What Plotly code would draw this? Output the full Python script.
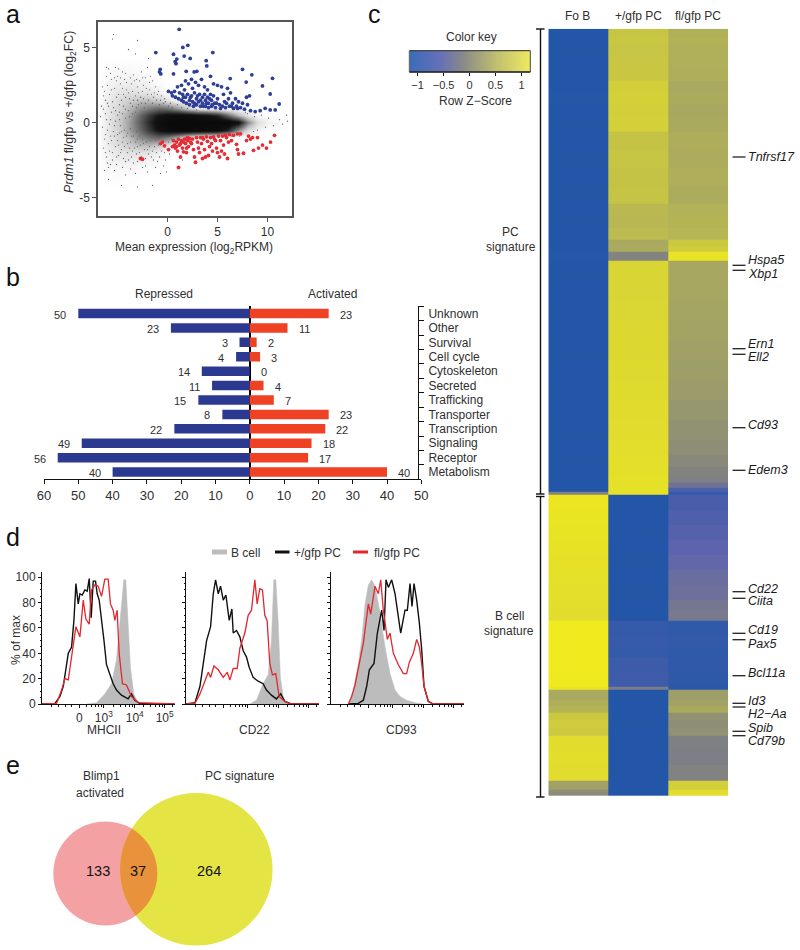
import numpy as np
import plotly.graph_objects as go

W, H = 800, 950
FONT = "Liberation Sans"
TXT = "#2f2f2f"

# ---------- panel a: MA plot ----------
cloud_x = [-7,-6,-5,-4,-3,-2,-1,0,1,2,3,4,5,6,7,8,9,10,11,12]
cloud_y = [4,3.5,3,2.5,2,1.5,1,0.5,0,-0.5,-1,-1.5,-2,-2.5,-3,-3.5,-4]
cloud_density = [
 [0,.01,.01,.01,.01,0,0,0,0,0,0,0,0,0,0,0,0,0,0,0],
 [0,.02,.03,.03,.02,.01,0,0,0,0,0,0,0,0,0,0,0,0,0,0],
 [0,.03,.05,.06,.05,.03,.01,0,0,0,0,0,0,0,0,0,0,0,0,0],
 [0,.05,.08,.09,.08,.06,.03,0,0,0,0,0,0,0,0,0,0,0,0,0],
 [0,.07,.12,.14,.14,.12,.08,.02,0,0,0,0,0,0,0,0,0,0,0,0],
 [0,.09,.15,.22,.26,.28,.22,.12,.03,.01,0,0,0,0,0,0,0,0,0,0],
 [0,.10,.18,.28,.40,.48,.55,.52,.40,.22,.10,.06,.04,.02,.01,0,0,0,0,0],
 [0,.11,.20,.34,.52,.70,.84,.92,.96,.96,.92,.88,.78,.55,.30,.12,.03,.01,0,0],
 [0,.11,.22,.36,.56,.76,.92,1,1,1,1,1,1,1,.92,.45,.15,.05,.03,.01],
 [0,.11,.20,.36,.52,.70,.86,.95,1,1,.98,.96,.94,.78,.45,.15,.05,.01,0,0],
 [0,.10,.18,.28,.42,.52,.58,.50,.34,.16,.07,.04,.02,.01,0,0,0,0,0,0],
 [0,.09,.15,.22,.28,.30,.24,.12,.03,0,0,0,0,0,0,0,0,0,0,0],
 [0,.07,.11,.14,.14,.12,.07,.02,0,0,0,0,0,0,0,0,0,0,0,0],
 [0,.05,.07,.08,.07,.05,.02,0,0,0,0,0,0,0,0,0,0,0,0,0],
 [0,.03,.04,.04,.03,.02,.01,0,0,0,0,0,0,0,0,0,0,0,0,0],
 [0,.01,.02,.01,.01,0,0,0,0,0,0,0,0,0,0,0,0,0,0,0],
 [0,.01,.01,.01,0,0,0,0,0,0,0,0,0,0,0,0,0,0,0,0],
]
specks = [(-5.4,5.9),(-5.5,5.6),(-3,5.5),(-3.9,4.9),(-3.2,4.6),(-1.9,4.3),(-5.9,3.6),(-5.2,3.7),(-4.9,3.6),(-4.5,3.4),
 (-6.1,3.1),(-5.6,2.9),(-5.0,3.1),(-4.3,2.9),(-3.4,3.2),(-2.6,3.4),(-2.2,3.0),(-1.7,3.1),(-6.5,2.4),(-6.0,2.5),
 (-5.3,2.3),(-4.7,2.6),(-4.1,2.2),(-3.6,2.6),(-3.0,2.4),(-2.4,2.5),(-1.8,2.2),(-1.2,2.4),(-0.9,2.1),(-6.4,1.8),
 (-5.8,1.9),(-5.1,1.7),(-4.4,1.9),(-3.8,1.6),(-3.2,1.8),(-2.7,1.7),(-2.0,1.9),(-1.4,1.7),(-0.7,1.5),(-0.3,1.6),
 (-6.6,1.1),(-6.0,1.3),(-5.4,1.0),(-4.8,1.2),(-4.2,0.9),(-3.5,1.1),(-2.9,1.2),(-2.3,1.0),(-6.7,0.4),(-6.2,0.6),
 (-5.7,0.2),(-5.0,0.5),(-6.5,-0.3),(-6.0,-0.5),(-5.3,-0.2),(-4.6,-0.6),(-6.3,-1.1),(-5.7,-0.9),(-5.0,-1.2),(-4.4,-1.0),
 (-3.7,-1.3),(-3.0,-1.1),(-2.4,-1.4),(-1.7,-1.2),(-6.4,-1.7),(-5.8,-1.9),(-5.2,-1.6),(-4.6,-1.8),(-4.0,-2.0),(-3.3,-1.7),
 (-2.8,-2.0),(-2.0,-1.8),(-1.3,-1.6),(-0.6,-1.9),(-6.1,-2.3),(-5.5,-2.5),(-4.9,-2.2),(-4.2,-2.6),(-3.6,-2.3),(-3.0,-2.6),
 (-2.2,-2.4),(-1.6,-2.3),(-1.0,-2.6),(-0.4,-2.9),(-0.1,-3.3),(-0.7,-3.4),(-5.9,-3.0),(-5.3,-3.2),(-4.5,-3.0),(-3.7,-3.1),
 (-5.9,-3.8),(-4.6,-4.2),(-3.0,-4.3),(-1.5,-4.2),(1.5,-2.5),(8.0,0.6),(8.7,0.4),(9.4,0.5),(10.1,0.3),(11.2,0.2),
 (11.9,0.5),(9.0,-0.5),(9.8,-0.3),(10.6,-0.2),(11.5,-0.1),(12.0,0.1),(8.6,-0.6),(7.8,0.7),(7.2,-0.9),(6.4,-0.9),
 (-6.3,2.1),(-6.2,1.5),(-5.9,1.1),(-5.6,2.2),(-5.5,1.4),(-5.2,0.8),(-5.1,2.8),(-4.9,1.9),(-4.8,0.7),(-4.6,1.5),
 (-4.5,2.3),(-4.4,1.1),(-4.2,1.7),(-4.1,2.7),(-3.9,0.8),(-3.9,2.0),(-3.7,1.3),(-3.5,2.1),(-3.4,1.5),(-3.3,2.8),
 (-3.1,1.0),(-3.0,1.5),(-2.9,2.0),(-2.8,2.8),(-2.6,1.3),(-2.5,2.1),(-2.4,1.6),(-2.2,1.3),(-2.1,2.3),(-1.9,1.5),
 (-1.8,2.7),(-1.6,1.9),(-1.5,1.3),(-1.3,2.0),(-1.1,1.5),(-1.0,1.9),(-0.8,1.2),(-0.6,1.8),(-0.4,1.3),(-0.2,1.4),
 (0.1,1.1),(0.3,1.3),(0.5,1.0),(1.0,1.2),(1.4,1.0),(2.0,0.95),(2.9,0.85),(-6.4,0.9),(-6.1,0.2),(-5.8,-0.1),
 (-5.6,0.7),(-5.4,-0.6),(-5.2,0.1),(-5.0,-0.8),(-4.8,0.2),(-4.7,-0.2),(-4.5,0.6),(-4.3,-0.5),(-4.2,0.3),(-4.0,-0.7),
 (-3.8,0.4),(-3.7,-0.4),(-3.5,0.6),(-3.4,-0.9),(-3.2,0.7),(-3.1,-0.6),(-6.2,-0.8),(-5.9,-1.4),(-5.6,-1.2),(-5.5,-2.0),
 (-5.3,-0.9),(-5.1,-2.3),(-4.9,-1.5),(-4.8,-0.7),(-4.7,-2.0),(-4.5,-1.3),(-4.4,-2.4),(-4.3,-1.6),(-4.1,-0.9),(-4.0,-1.4),
 (-3.9,-2.5),(-3.8,-1.7),(-3.6,-0.9),(-3.5,-1.9),(-3.4,-2.7),(-3.2,-1.3),(-3.1,-2.1),(-3.0,-1.6),(-2.8,-0.9),(-2.7,-1.5),
 (-2.6,-2.3),(-2.5,-1.1),(-2.3,-1.8),(-2.2,-2.9),(-2.1,-1.3),(-1.9,-2.1),(-1.8,-1.6),(-1.6,-1.0),(-1.5,-1.9),(-1.4,-2.5),
 (-1.2,-1.2),(-1.1,-2.0),(-0.9,-1.5),(-0.8,-2.3),(-0.5,-1.2),(-0.3,-2.0),(-0.2,-2.5),(0.1,-1.3),(0.2,-2.1),(0.4,-1.1),
 (-2.5,-3.0),(-2.0,-3.3),(-1.2,-3.0),(-3.2,-3.4),(-4.2,-3.5),(-5.1,-2.8),(-5.7,-2.8),(-6.2,-2.0),(-6.0,-2.7),(-6.3,-3.2),
 (-6.1,3.7),(-5.7,3.3),(-5.3,3.0),(-4.7,3.0),(-4.2,3.3),(-3.7,3.0),(-3.1,2.9),(-2.5,3.0),(-2.0,3.7),(-1.5,2.8)]
blue = [(1.17,6.25),(-1.17,4.69),(1.53,5.04),(2.03,5.18),(4.53,4.69),(0.6,4.58),(1.67,4.46),(0.93,4.26),(0.77,4.08),(0.85,3.95),
 (2.27,4.3),(3.87,4.15),(3.93,3.8),(-0.73,3.57),(-0.8,3.4),(-0.67,3.26),(0.6,3.26),(1.87,3.44),(2.67,3.4),(2.93,3.44),
 (7.5,3.57),(8.43,3.2),(10.5,2.97),(6.27,2.95),(7.87,2.72),(9.5,2.46),(10.27,1.92),(11.17,1.25),(10.77,0.85),(10.27,0.85),
 (9.77,0.96),(9.27,0.8),(8.77,0.74),(0.1,2.1),(0.4,2.0),(0.7,2.1),(0.5,1.8),(0.8,1.7),(1.0,2.4),(1.2,2.0),(1.1,1.6),
 (1.4,2.5),(1.5,1.9),(1.4,1.5),(1.6,1.4),(1.8,2.8),(1.7,2.2),(1.8,1.7),(1.9,1.3),(2.1,2.6),(2.0,1.9),(2.2,1.5),(2.2,1.2),
 (2.4,2.9),(2.5,2.3),(2.4,1.8),(2.5,1.4),(2.6,1.1),(2.8,2.7),(2.7,2.0),(2.9,1.6),(2.9,1.2),(3.1,2.5),(3.2,1.9),(3.1,1.4),
 (3.3,1.1),(3.4,2.9),(3.5,1.7),(3.5,1.3),(3.7,2.4),(3.7,1.9),(3.8,1.5),(3.8,1.1),(4.0,2.2),(4.0,1.7),(4.1,1.3),(4.1,1.0),
 (4.3,3.1),(4.3,1.9),(4.4,1.5),(4.4,1.1),(4.6,2.6),(4.6,1.8),(4.7,1.3),(4.8,1.0),(5.0,2.5),(5.0,1.6),(5.2,1.2),(5.3,0.95),
 (5.4,2.4),(5.6,1.9),(5.7,1.4),(5.8,1.0),(6.0,2.3),(6.1,1.6),(6.2,1.1),(6.3,2.0),(6.5,1.3),(6.6,0.95),(6.8,1.6),(6.9,1.1),
 (7.1,1.4),(7.3,1.0),(7.5,1.3),(7.7,0.9),(7.9,1.7),(8.0,1.2),(8.2,1.8),(8.3,0.8),(3.0,1.8),(3.3,1.5),(3.9,1.3),(4.2,1.6),
 (4.5,1.2),(2.3,1.7),(2.7,1.3),(1.6,1.7),(3.6,1.1),(4.9,1.3),(5.5,1.1),(6.4,1.1),(7.0,0.95),(5.9,1.3)]
red = [(-2.7,-2.4),(-2.5,-2.45),(-0.7,-1.4),(-0.5,-1.3),(-0.3,-1.55),(0.1,-1.8),(0.6,-1.2),(0.7,-1.5),(0.8,-1.7),(0.9,-1.3),
 (1.0,-1.9),(1.1,-1.1),(1.2,-1.5),(1.3,-2.3),(1.4,-1.2),(1.5,-1.7),(1.6,-1.95),(1.7,-1.1),(1.8,-1.4),(1.9,-2.0),(2.0,-1.2),
 (2.1,-1.6),(2.2,-1.05),(2.4,-1.4),(2.5,-1.1),(2.6,-1.8),(2.7,-2.3),(2.8,-2.65),(2.9,-1.0),(3.0,-1.3),(3.1,-1.7),(3.2,-2.0),
 (3.3,-1.0),(3.4,-1.4),(3.5,-2.4),(3.6,-1.1),(3.7,-1.8),(3.8,-2.3),(3.9,-0.95),(4.0,-1.25),(4.1,-2.2),(4.2,-1.6),(4.3,-1.0),
 (4.4,-1.4),(4.5,-1.9),(4.6,-0.95),(4.8,-1.2),(4.9,-1.7),(5.0,-2.0),(5.1,-0.9),(5.2,-2.3),(5.3,-1.2),(5.4,-1.9),(5.5,-0.9),
 (5.6,-1.5),(5.7,-2.1),(5.8,-0.85),(5.9,-1.0),(6.0,-2.4),(6.1,-1.3),(6.2,-0.8),(6.4,-1.2),(6.6,-0.85),(6.9,-1.45),(7.0,-1.8),
 (7.0,-0.75),(7.1,-2.1),(7.3,-0.75),(7.6,-2.05),(7.9,-1.2),(8.1,-0.9),(8.3,-1.1),(8.5,-1.0),(8.6,-1.85),(9.0,-1.0),(9.1,-1.7),
 (9.5,-1.5),(9.9,-1.7),(10.3,-1.3),(10.7,-0.85),(1.1,-3.0),(0.9,-1.6),(1.6,-1.3),(2.3,-1.3),(3.5,-1.0),(4.7,-1.1),(2.0,-1.0),
 (1.3,-1.4),(0.5,-1.6),(1.9,-1.7)]

# ---------- panel b ----------
categories = ["Unknown","Other","Survival","Cell cycle","Cytoskeleton","Secreted","Trafficking","Transporter",
              "Transcription","Signaling","Receptor","Metabolism"]
repressed = [50,23,3,4,14,11,15,8,22,49,56,40]
activated = [23,11,2,3,0,4,7,23,22,18,17,40]
b_ticks = [-60,-50,-40,-30,-20,-10,0,10,20,30,40,50]

# ---------- panel d: channel / percent readings ----------
mhc_gray_x = [134,164,189,209,224,234,246,252,259,266,276,289,314]
mhc_gray_y = [0,1,8,16,35,66,98,98,66,29,8,1,0]
mhc_black_x = [0,39,54,64,79,89,96,102,109,114,121,129,136,142,148,154,161,166,172,177,186,194,204,214,224,239,259,269,279,294,399]
mhc_black_y = [0,.5,6,14,40,45,66,95,79,87,86,90,89,99,68,97,97,87,82,69,51,31,24,16,11,7,4,8,3,.5,0]
mhc_red_x = [0,44,59,69,79,89,102,114,124,132,142,149,159,169,179,189,199,206,214,219,226,232,242,254,269,289,399]
mhc_red_y = [0,.5,11,20,19,37,61,53,82,67,63,90,94,93,85,98.5,98.5,79,74,66,74,40,16,15,6,1,0]
cd22_gray_x = [192,212,232,247,257,264,270,277,284,292,302,322]
cd22_gray_y = [0,3,16,23,50,98,98,66,21,6,1,0]
cd22_black_x = [0,27,42,54,62,74,82,89,97,104,112,120,130,138,142,152,162,172,182,190,202,217,232,242,257,272,285,297,317,400]
cd22_black_y = [0,1,14,35,50,61,87,98,87,93,82,86,66,75,56,58,53,42,37,29,21,18,16,11,7,4,8,2,0,0]
cd22_red_x = [0,27,42,54,67,74,84,97,112,124,132,142,154,162,177,187,197,207,214,222,230,237,244,252,260,270,280,297,317,400]
cd22_red_y = [0,.5,8,16,25,21,30,27,21,25,19,28,28,44,56,70,74,98,79,91,90,70,66,32,23,24,6,2,0,0]
cd93_gray_x = [53,68,83,93,103,113,123,133,148,163,178,193,208,228,253,278]
cd93_gray_y = [0,11,32,51,79,94,98,93,72,45,24,11,6,3,1,0]
cd93_black_x = [53,83,98,108,116,130,140,153,160,166,173,183,193,203,210,223,230,238,244,250,258,266,273,280,293,308,400]
cd93_black_y = [0,.5,3,14,27,32,56,74,58,98,92,98,87,69,56,74,74,95,77,95,82,64,43,14,2,0,0]
cd93_red_x = [53,63,73,86,98,113,120,133,143,150,158,170,178,188,203,218,228,236,248,258,266,273,280,293,308,400]
cd93_red_y = [0,6,15,33,48,79,71,93,87,98,74,51,56,40,31,24,24,33,40,51,45,32,14,2,0,0]
d_major = [112,186,279,369]
d_labels = ["0","10<sup>3</sup>","10<sup>4</sup>","10<sup>5</sup>"]
d_minor = [30,50,70,90,135,150,160,170,178,215,235,250,262,271,305,325,340,352,362,392]

# ---------- panel c: heat map bands ----------
row_edges = [0,8,16,26,39,52,64,76,89,103,121,139,157,175,187,199,211,217,223,232,251,271,291,311,331,351,371,391,411,426,
 438,447,454,459,463,466,481,496,511,526,541,556,571,581,592,606,619,629,643,658,661,671,677,684,691,699,707,721,736,752,761,767]
z_fob = [-1.14,-1.15,-1.14,-1.15,-1.14,-1.15,-1.13,-1.15,-1.14,-1.15,-1.14,-1.15,-1.14,-1.15,-1.14,-1.15,-1.14,-1.15,-1.13,
 -1.14,-1.15,-1.14,-1.15,-1.14,-1.15,-1.14,-1.15,-1.14,-1.15,-1.14,-1.15,-1.14,-1.15,-1.14,0,
 1.12,1.10,1.08,1.07,1.06,1.05,1.04,1.02,1.0,1.16,1.16,1.16,1.16,1.15,1.1,.42,.48,.55,.78,.82,.78,1.0,1.02,1.0,.32,.1]
z_pos = [.74,.76,.74,.75,.76,.85,.87,.85,.86,.72,.74,.72,.73,.60,.58,.62,.42,.44,0,
 .92,.92,.93,.95,.96,.97,.98,.99,1.0,1.02,1.03,1.04,1.05,1.05,1.05,1.05,
 -1.14,-1.15,-1.14,-1.15,-1.14,-1.15,-1.14,-1.15,-1.14,-.95,-.93,-.96,-.88,-.86,-.1,-1.14,-1.15,-1.14,-1.15,-1.14,-1.15,-1.14,-1.15,-1.14,-1.15,-1.14]
z_fl = [.50,.52,.50,.50,.49,.42,.44,.41,.43,.47,.46,.48,.46,.52,.55,.57,.78,.82,1.08,
 .40,.40,.38,.36,.32,.30,.27,.22,.16,.12,.05,-.02,-.05,-.25,-.7,-.95,
 -.75,-.68,-.6,-.52,-.45,-.35,-.3,-.2,-.15,-1.0,-.98,-1.02,-1.0,-1.03,-1.05,.3,.34,.42,.17,.12,.15,-.05,-.08,-.02,.85,1.0]
columns = ["Fo B","+/gfp PC","fl/gfp PC"]
key_values = [-1.16,-0.9,-0.6,-0.3,-0.1,0.1,0.3,0.5,0.7,0.9,1.16]
key_ticks = [-1,-0.5,0,0.5,1]
key_ticktext = ["\u22121","\u22120.5","0","0.5","1"]
genes = ["Tnfrsf17","Hspa5","Xbp1","Ern1","Ell2","Cd93","Edem3","Cd22","Ciita","Cd19","Pax5","Bcl11a","Id3","H2\u2212Aa","Spib","Cd79b"]
gene_tick_y = [157,265.3,270.3,348.7,354.3,427.7,470.3,591.7,598.3,633.3,639.7,675.7,703.3,707,731.3,735.7]
gene_text_y = [157,260,274.3,344.3,356.7,425,470,589,601,630,644,673.3,700.7,713.7,728.3,740.7]

# ---------- panel e ----------
venn_counts = [133,37,264]

# helpers
def px(x): return x / W
def py(y): return 1 - y / H
def dom_x(a, b): return [px(a), px(b)]
def dom_y(top, bottom): return [py(bottom), py(top)]
annotations, shapes = [], []
def ann(x, y, text, size=12, anchor="center", angle=0, color=TXT):
    annotations.append(dict(x=px(x), y=py(y), xref="paper", yref="paper", text=text, showarrow=False,
        font=dict(family=FONT, size=size, color=color), xanchor=anchor, yanchor="middle", textangle=angle))
def seg(x0, y0, x1, y1, color="#111", width=1.4):
    shapes.append(dict(type="line", xref="paper", yref="paper", x0=px(x0), y0=py(y0), x1=px(x1), y1=py(y1),
                       line=dict(color=color, width=width)))

fig = go.Figure()
tf = dict(family=FONT, size=12, color=TXT)

# panel a
fig.add_trace(go.Heatmap(x=cloud_x, y=cloud_y, z=cloud_density, zsmooth="best", zmin=0, zmax=1, showscale=False,
    colorscale=[[0,"#ffffff"],[0.25,"#c8c8c8"],[0.55,"#6a6a6a"],[0.85,"#141414"],[1,"#0a0a0a"]], xaxis="x", yaxis="y", hoverinfo="skip"))
sx, sy = zip(*specks)
fig.add_trace(go.Scatter(x=sx, y=sy, mode="markers", marker=dict(size=1.3, color="#666"), xaxis="x", yaxis="y", showlegend=False))
bx, by = zip(*blue)
fig.add_trace(go.Scatter(x=bx, y=by, mode="markers", marker=dict(size=3.8, color="#2f3f98"), xaxis="x", yaxis="y", showlegend=False))
rx, ry = zip(*red)
fig.add_trace(go.Scatter(x=rx, y=ry, mode="markers", marker=dict(size=3.8, color="#e52d38"), xaxis="x", yaxis="y", showlegend=False))

# panel b
fig.add_trace(go.Bar(y=categories, x=[-v for v in repressed], orientation="h", marker=dict(color="#2b3990", line_width=0),
                     xaxis="x2", yaxis="y2", showlegend=False))
fig.add_trace(go.Bar(y=categories, x=activated, orientation="h", marker=dict(color="#ef4123", line_width=0),
                     xaxis="x2", yaxis="y2", showlegend=False))
for c, v in zip(categories, repressed):
    annotations.append(dict(x=-v, y=c, xref="x2", yref="y2", text=str(v), showarrow=False, xanchor="right", xshift=-10, yshift=-1,
                            font=dict(family=FONT, size=11, color=TXT)))
for c, v in zip(categories, activated):
    annotations.append(dict(x=v, y=c, xref="x2", yref="y2", text=str(v), showarrow=False, xanchor="left", xshift=9, yshift=-1,
                            font=dict(family=FONT, size=11, color=TXT)))

# panel d
panels = [("x3","y3",mhc_gray_x,mhc_gray_y,mhc_black_x,mhc_black_y,mhc_red_x,mhc_red_y),
          ("x4","y4",cd22_gray_x,cd22_gray_y,cd22_black_x,cd22_black_y,cd22_red_x,cd22_red_y),
          ("x5","y5",cd93_gray_x,cd93_gray_y,cd93_black_x,cd93_black_y,cd93_red_x,cd93_red_y)]
for xa, ya, gx, gy, kx, ky, qx, qy in panels:
    fig.add_trace(go.Scatter(x=gx, y=gy, mode="lines", fill="tozeroy", fillcolor="#bcbcbc", line=dict(color="#bcbcbc", width=0.5),
                             xaxis=xa, yaxis=ya, showlegend=False))
    fig.add_trace(go.Scatter(x=kx, y=ky, mode="lines", line=dict(color="#111", width=1.4), xaxis=xa, yaxis=ya, showlegend=False, cliponaxis=False))
    fig.add_trace(go.Scatter(x=qx, y=qy, mode="lines", line=dict(color="#e3272d", width=1.3), xaxis=xa, yaxis=ya, showlegend=False, cliponaxis=False))

# panel c
scale = [[0,"#2256a8"],[0.285,"#5f63ad"],[0.5,"#83837f"],[0.715,"#b0b05a"],[1,"#f0ea1e"]]
fig.add_trace(go.Heatmap(x=[0,1,2,3], y=row_edges, z=[list(r) for r in zip(z_fob, z_pos, z_fl)], zmin=-1.16, zmax=1.16,
                         colorscale=scale, showscale=False, xaxis="x6", yaxis="y6", hoverinfo="skip"))
key_scale = [[0,"#3c6cb8"],[0.25,"#6670b8"],[0.46,"#8d8d85"],[0.72,"#c0c070"],[1,"#eeea60"]]
fig.add_trace(go.Heatmap(x=key_values, y=[0,1], z=[key_values, key_values], zmin=-1.16, zmax=1.16, zsmooth="best",
                         colorscale=key_scale, showscale=False, xaxis="x7", yaxis="y7", hoverinfo="skip"))

# text for panels
for letter, x, y in [("a",13,14),("b",13,277),("c",374,14),("d",13,537),("e",13,765)]:
    ann(x, y, letter, size=25, color="#111")
ann(70, 112, "<i>Prdm1</i> fl/gfp vs +/gfp (log<sub>2</sub>FC)", size=12.3, angle=-90)
ann(194, 248, "Mean expression (log<sub>2</sub>RPKM)")
ann(164, 294, "Repressed")
ann(332, 294, "Activated")
ann(16, 640, "% of max", angle=-90)
ann(104, 729.5, "MHCII"); ann(254, 729.5, "CD22"); ann(402, 729.5, "CD93")
ann(229, 552.5, "B cell", anchor="left"); ann(292, 552.5, "+/gfp PC", anchor="left"); ann(372, 552.5, "fl/gfp PC", anchor="left")
seg(212, 552, 227, 552, "#bcbcbc", 5); seg(275, 552, 289.5, 552, "#111", 3); seg(353, 552, 368, 552, "#e3272d", 3)
ann(471, 37, "Color key"); ann(475, 101, "Row Z\u2212Score")
seg(409.3, 50.7, 530.3, 50.7, "#222", 1); seg(409.3, 72, 530.3, 72, "#111", 1.6); seg(530.3, 50.7, 530.3, 72, "#444", 1); seg(409.3, 50.7, 409.3, 72, "#444", 0.8)
ann(577, 16, columns[0]); ann(638, 16, columns[1]); ann(698, 16, columns[2])
ann(510.5, 232, "PC"); ann(510.5, 247, "signature")
ann(509, 616, "B cell"); ann(509, 631, "signature")
seg(540.5, 29, 540.5, 494); seg(540.5, 496, 540.5, 797)
for yy in (29, 494, 496.5, 797):
    seg(536, yy, 544.5, yy)
for g, t, l in zip(genes, gene_tick_y, gene_text_y):
    seg(732.5, t, 745.5, t, "#222", 1.3)
    ann(745.5, l, "<i>%s</i>" % g, size=12.5, anchor="left", color="#1a1a1a")

# venn
cp = (105.3, 873.4, 52); cy = (196.3, 869.3, 76.3)
for (cx, cyy, r), col in ((cp, "#f4a1a3"), (cy, "#e4e545")):
    shapes.append(dict(type="circle", xref="paper", yref="paper", x0=px(cx-r), x1=px(cx+r), y0=py(cyy+r), y1=py(cyy-r),
                       fillcolor=col, line_width=0, layer="below"))
tt = np.linspace(0, 2*np.pi, 721)
ax_, ay_ = cp[0]+cp[2]*np.cos(tt), cp[1]+cp[2]*np.sin(tt)
inside1 = (ax_-cy[0])**2+(ay_-cy[1])**2 <= cy[2]**2
bx_, by_ = cy[0]+cy[2]*np.cos(tt), cy[1]+cy[2]*np.sin(tt)
inside2 = (bx_-cp[0])**2+(by_-cp[1])**2 <= cp[2]**2
lx = np.concatenate([ax_[inside1], bx_[inside2]]); ly = np.concatenate([ay_[inside1], by_[inside2]])
mx, my = lx.mean(), ly.mean()
o = np.argsort(np.arctan2(ly-my, lx-mx))
path = "M" + " L".join("%.5f,%.5f" % (px(a), py(b)) for a, b in zip(lx[o], ly[o])) + " Z"
shapes.append(dict(type="path", xref="paper", yref="paper", path=path, fillcolor="#e8933c", line_width=0, layer="below"))
ann(101, 776, "Blimp1"); ann(100, 793, "activated"); ann(240.5, 776, "PC signature")
ann(97.7, 871, str(venn_counts[0]), size=14.5, color="#111"); ann(138, 871, str(venn_counts[1]), size=14.5, color="#111")
ann(208.7, 871, str(venn_counts[2]), size=14.5, color="#111")

# axes
line_a = dict(showline=True, linecolor="#555", linewidth=1.5, mirror=True, ticks="outside", ticklen=4, tickcolor="#555", showgrid=False,
              zeroline=False, tickfont=tf)
hist_x = dict(range=[0,400], showgrid=False, zeroline=False, showline=True, linecolor="#111", linewidth=1, ticks="outside", ticklen=3,
              tickcolor="#111", tickvals=d_major, minor=dict(tickvals=d_minor, ticks="outside", ticklen=1.5, tickcolor="#111"), tickfont=tf)
hist_y = dict(range=[0,104.4], showgrid=False, zeroline=False, showline=True, linecolor="#111", linewidth=1, ticks="outside", ticklen=3,
              tickcolor="#111", tickvals=[0,20,40,60,80,100], minor=dict(dtick=5, ticks="outside", ticklen=1.5, tickcolor="#111"), tickfont=tf)
fig.update_layout(
    width=W, height=H, margin=dict(l=0,r=0,t=0,b=0,pad=0,autoexpand=False), paper_bgcolor="white", plot_bgcolor="white",
    font=dict(family=FONT, color=TXT), barmode="overlay", bargap=0.34, showlegend=False,
    annotations=annotations, shapes=shapes,
    xaxis=dict(domain=dom_x(98,292), range=[-6.95,12.45], tickvals=[0,5,10], **line_a),
    yaxis=dict(domain=dom_y(22,216), range=[-6.25,6.74], tickvals=[-5,0,5], ticktext=["-5","0","5"], **line_a),
    xaxis2=dict(domain=dom_x(44,421.3), range=[-60,50], tickvals=b_ticks, ticktext=[str(abs(v)) for v in b_ticks],
                showgrid=False, showline=True, linecolor="#111", linewidth=1, ticks="outside", ticklen=4, tickcolor="#111",
                zeroline=True, zerolinecolor="#000", zerolinewidth=2, tickfont=dict(family=FONT, size=13, color=TXT), anchor="y2"),
    yaxis2=dict(domain=dom_y(306.3,479.3), range=[11.5,-0.5], type="category", categoryorder="array", categoryarray=categories,
                side="right", anchor="free", position=px(418), showline=True, linecolor="#111", linewidth=1, ticks="outside",
                tickson="boundaries", ticklen=5, tickcolor="#111", showgrid=False, zeroline=False, tickfont=tf, ticklabelstandoff=7),
    xaxis3=dict(domain=dom_x(42,175), anchor="y3", ticktext=d_labels, **hist_x),
    yaxis3=dict(domain=dom_y(571.7,704), anchor="x3", **hist_y),
    xaxis4=dict(domain=dom_x(186,319), anchor="y4", showticklabels=False, **hist_x),
    yaxis4=dict(domain=dom_y(571.7,704), anchor="x4", showticklabels=False, **hist_y),
    xaxis5=dict(domain=dom_x(330.7,464), anchor="y5", showticklabels=False, **hist_x),
    yaxis5=dict(domain=dom_y(571.7,704), anchor="x5", showticklabels=False, **hist_y),
    xaxis6=dict(domain=dom_x(548.3,728), anchor="y6", range=[0,3], visible=False),
    yaxis6=dict(domain=dom_y(28.7,796), anchor="x6", range=[767,0], visible=False),
    xaxis7=dict(domain=dom_x(409.3,530.3), anchor="y7", range=[-1.16,1.17], tickvals=key_ticks, ticktext=key_ticktext,
                showline=False, ticks="outside", ticklen=3, tickcolor="#111", showgrid=False,
                zeroline=False, tickfont=dict(family=FONT, size=11, color=TXT)),
    yaxis7=dict(domain=dom_y(50.7,72), anchor="x7", range=[0,1], visible=False),
)
fig.write_html("out.html", config=dict(displayModeBar=False), post_script="document.body.style.margin='0';")
